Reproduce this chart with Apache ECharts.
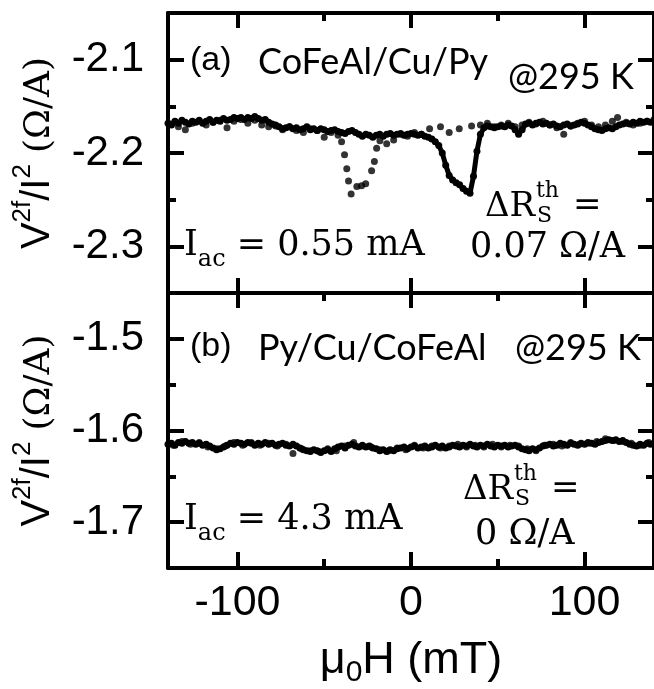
<!DOCTYPE html>
<html>
<head>
<meta charset="utf-8">
<script src="https://cdn.jsdelivr.net/npm/echarts@6.0.0/dist/echarts.min.js"></script>
<style>
  html, body { margin: 0; padding: 0; background: #fff; }
  #chart { width: 654px; height: 689px; }
</style>
</head>
<body>
<div id="chart"></div>
<script>
// field axis (mT) for the dense sweeps, 2 mT step
var fieldDense = [
  -140, -138, -136, -134, -132, -130, -128, -126, -124, -122, -120, -118, -116, -114, -112, -110,
  -108, -106, -104, -102, -100, -98, -96, -94, -92, -90, -88, -86, -84, -82, -80, -78,
  -76, -74, -72, -70, -68, -66, -64, -62, -60, -58, -56, -54, -52, -50, -48, -46,
  -44, -42, -40, -38, -36, -34, -32, -30, -28, -26, -24, -22, -20, -18, -16, -14,
  -12, -10, -8, -6, -4, -2, 0, 2, 4, 6, 8, 10, 12, 14, 16, 18,
  20, 22, 24, 26, 28, 30, 32, 34, 36, 38, 40, 42, 44, 46, 48, 50,
  52, 54, 56, 58, 60, 62, 64, 66, 68, 70, 72, 74, 76, 78, 80, 82,
  84, 86, 88, 90, 92, 94, 96, 98, 100, 102, 104, 106, 108, 110, 112, 114,
  116, 118, 120, 122, 124, 126, 128, 130, 132, 134, 136, 138, 140
];

// (a) CoFeAl/Cu/Py, dense sweep
var topDense = [
  -2.168, -2.170, -2.166, -2.168, -2.165, -2.167, -2.169, -2.166, -2.167, -2.165, -2.168, -2.166, -2.164, -2.167, -2.165, -2.166,
  -2.163, -2.165, -2.164, -2.162, -2.163, -2.162, -2.164, -2.162, -2.163, -2.161, -2.163, -2.165, -2.164, -2.167, -2.169, -2.170,
  -2.172, -2.174, -2.173, -2.172, -2.174, -2.173, -2.175, -2.174, -2.172, -2.175, -2.174, -2.176, -2.174, -2.175, -2.177, -2.176,
  -2.175, -2.177, -2.178, -2.179, -2.177, -2.176, -2.178, -2.180, -2.182, -2.180, -2.181, -2.183, -2.181, -2.180, -2.182, -2.180,
  -2.179, -2.181, -2.180, -2.179, -2.181, -2.180, -2.179, -2.180, -2.181, -2.180, -2.182, -2.183, -2.185, -2.188, -2.192, -2.200,
  -2.213, -2.224, -2.229, -2.232, -2.234, -2.238, -2.241, -2.243, -2.225, -2.198, -2.180, -2.173, -2.171, -2.172, -2.173, -2.172,
  -2.171, -2.172, -2.170, -2.171, -2.175, -2.180, -2.175, -2.169, -2.168, -2.170, -2.168, -2.167, -2.169, -2.168, -2.170, -2.169,
  -2.171, -2.172, -2.170, -2.169, -2.171, -2.170, -2.169, -2.167, -2.168, -2.170, -2.172, -2.174, -2.175, -2.176, -2.174, -2.173,
  -2.174, -2.172, -2.170, -2.169, -2.168, -2.169, -2.167, -2.168, -2.166, -2.167, -2.166, -2.167, -2.166
];

// (a) sparse sweep: field, value
var topSparseField = [
  -138, -134, -130, -126, -122, -118, -114, -110, -106, -102, -98, -94, -90, -86, -82, -78,
  -74, -70, -66, -62, -58, -54, -50, -46, -42, -40, -38.3, -37, -36, -34.5, -31.2, -28.5,
  -26.1, -22.7, -21.1, -19.8, -17.9, -14, -10, -6, -2, 2, 6, 10.7, 17, 22, 27.8, 34.9,
  40, 44, 48, 52, 56, 60, 64, 68, 72, 76, 80, 84, 88, 92, 96, 100,
  104, 108, 112, 116, 119, 124, 128, 132, 136, 140
];
var topSparse = [
  -2.169, -2.172, -2.175, -2.168, -2.166, -2.170, -2.167, -2.165, -2.173, -2.166, -2.164, -2.168, -2.165, -2.170, -2.172, -2.171,
  -2.175, -2.172, -2.176, -2.178, -2.174, -2.176, -2.183, -2.178, -2.181, -2.188, -2.202, -2.217, -2.230, -2.244, -2.236, -2.235,
  -2.233, -2.219, -2.209, -2.195, -2.187, -2.190, -2.186, -2.180, -2.182, -2.178, -2.180, -2.174, -2.172, -2.178, -2.174, -2.171,
  -2.170, -2.168, -2.172, -2.170, -2.168, -2.172, -2.170, -2.167, -2.169, -2.166, -2.170, -2.173, -2.180, -2.171, -2.168, -2.166,
  -2.170, -2.172, -2.170, -2.166, -2.162, -2.167, -2.170, -2.168, -2.166, -2.164
];

// (b) Py/Cu/CoFeAl, dense sweep
var botDense = [
  -1.615, -1.614, -1.616, -1.613, -1.614, -1.612, -1.614, -1.613, -1.615, -1.614, -1.616, -1.615, -1.617, -1.619, -1.621, -1.620,
  -1.618, -1.616, -1.614, -1.615, -1.613, -1.614, -1.615, -1.613, -1.614, -1.616, -1.614, -1.615, -1.613, -1.615, -1.614, -1.616,
  -1.615, -1.614, -1.616, -1.617, -1.615, -1.617, -1.619, -1.621, -1.622, -1.623, -1.621, -1.622, -1.624, -1.622, -1.621, -1.623,
  -1.620, -1.618, -1.617, -1.619, -1.616, -1.615, -1.617, -1.618, -1.616, -1.618, -1.617, -1.619, -1.620, -1.622, -1.621, -1.623,
  -1.621, -1.622, -1.620, -1.619, -1.618, -1.620, -1.618, -1.617, -1.619, -1.618, -1.617, -1.619, -1.618, -1.616, -1.618, -1.617,
  -1.619, -1.618, -1.616, -1.617, -1.618, -1.616, -1.617, -1.615, -1.617, -1.618, -1.616, -1.617, -1.615, -1.617, -1.618, -1.616,
  -1.617, -1.616, -1.618, -1.617, -1.616, -1.618, -1.620, -1.621, -1.622, -1.620, -1.621, -1.619, -1.617, -1.616, -1.615, -1.617,
  -1.616, -1.614, -1.615, -1.616, -1.614, -1.615, -1.616, -1.614, -1.615, -1.613, -1.614, -1.615, -1.613, -1.612, -1.611, -1.610,
  -1.611, -1.610, -1.612, -1.611, -1.613, -1.615, -1.616, -1.617, -1.615, -1.616, -1.614, -1.615, -1.614
];

// (b) sparse sweep
var botSparseField = [
  -137, -132, -127, -122, -117, -112, -107, -102, -97, -92, -87, -82, -77, -72, -68, -63,
  -58, -53, -48, -43, -38, -33, -28, -23, -18, -13, -8, -3, 2, 7, 12, 17,
  22, 27, 32, 37, 42, 47, 52, 57, 62, 67, 72, 77, 82, 87, 92, 97,
  102, 107, 112, 117, 122, 127, 132, 137
];
var botSparse = [
  -1.616, -1.612, -1.615, -1.613, -1.618, -1.620, -1.617, -1.613, -1.616, -1.613, -1.616, -1.614, -1.617, -1.615, -1.625, -1.620,
  -1.622, -1.623, -1.620, -1.622, -1.617, -1.613, -1.617, -1.618, -1.621, -1.622, -1.619, -1.621, -1.616, -1.619, -1.617, -1.619,
  -1.617, -1.615, -1.618, -1.616, -1.618, -1.615, -1.618, -1.616, -1.617, -1.620, -1.622, -1.616, -1.615, -1.617, -1.613, -1.615,
  -1.614, -1.612, -1.609, -1.611, -1.612, -1.614, -1.616, -1.613
];

// tick labels
var fieldTicks = [-100, 0, 100];
var fieldMinor = [-50, 50];
var topTicks = [-2.3, -2.2, -2.1];
var topMinor = [-2.25, -2.15];
var botTicks = [-1.7, -1.6, -1.5];
var botMinor = [-1.65, -1.55];

function pairs(xs, ys) {
  return xs.map(function (x, i) { return [x, ys[i]]; });
}

var SANS = '"Liberation Sans", Arial, sans-serif';
var SERIF = '"DejaVu Serif", "Liberation Serif", serif';
var CAL = 'Lato, "Open Sans", sans-serif';

function xAx(grid, pos, ticks, len, withLine) {
  return {
    type: 'value', gridIndex: grid, position: pos, min: -140, max: 140,
    axisLine: { show: withLine, onZero: false, lineStyle: { color: '#000', width: 4 } },
    axisTick: { show: true, inside: true, length: len, customValues: ticks, lineStyle: { color: '#000', width: 4 } },
    axisLabel: { show: false },
    splitLine: { show: false }
  };
}
function yAx(grid, pos, min, max, ticks, len, withLine) {
  return {
    type: 'value', gridIndex: grid, position: pos, min: min, max: max,
    axisLine: { show: withLine, onZero: false, lineStyle: { color: '#000', width: 4 } },
    axisTick: { show: true, inside: true, length: len, customValues: ticks, lineStyle: { color: '#000', width: 4 } },
    axisLabel: { show: false },
    splitLine: { show: false }
  };
}

var yNameRich = {
  t: { fontFamily: SANS, fontSize: 40, lineHeight: 48, verticalAlign: 'bottom' },
  sup: { fontFamily: SANS, fontSize: 26, lineHeight: 26, verticalAlign: 'top' },
  s: { fontFamily: SERIF, fontSize: 36, lineHeight: 48, verticalAlign: 'bottom' }
};
var yNameText = '{t|V}{sup|2f}{t|/I}{sup|2}{t| }{s|(Ω/A)}';

// bottom axis with labels (panel b)
var xMain = xAx(1, 'bottom', fieldTicks, 16, true);
xMain.axisLabel = {
  show: true, customValues: fieldTicks, margin: 14, color: '#000',
  fontFamily: SANS, fontSize: 43
};
xMain.name = '{t|μ}{sub|0}{t|H (mT)}';
xMain.nameLocation = 'middle';
xMain.nameGap = 70;
xMain.nameTextStyle = {
  color: '#000',
  rich: {
    t: { fontFamily: SANS, fontSize: 45, lineHeight: 50, verticalAlign: 'top', color: '#000' },
    sub: { fontFamily: SANS, fontSize: 30, lineHeight: 28, verticalAlign: 'bottom', color: '#000' }
  }
};

function yMainAx(grid, min, max, ticks) {
  var a = yAx(grid, 'left', min, max, ticks, 16, true);
  a.axisLabel = {
    show: true, customValues: ticks, margin: 24, color: '#000',
    fontFamily: SANS, fontSize: 42,
    formatter: function (v) { return v.toFixed(1); }
  };
  a.name = yNameText;
  a.nameLocation = 'middle';
  a.nameGap = 110;
  a.nameRotate = 90;
  a.nameTextStyle = { color: '#000', rich: yNameRich };
  return a;
}

var option = {
  backgroundColor: '#fff',
  animation: false,
  grid: [
    { left: 168, right: -4, top: 13, height: 280 },
    { left: 168, right: -4, top: 293, height: 281 }
  ],
  xAxis: [
    xAx(0, 'bottom', fieldTicks, 15, true),
    xAx(0, 'top', fieldTicks, 15, true),
    xAx(0, 'top', fieldMinor, 8, false),
    xMain,
    xAx(1, 'bottom', fieldMinor, 9, false),
    xAx(1, 'top', fieldTicks, 15, true),
    xAx(1, 'top', fieldMinor, 8, false)
  ],
  yAxis: [
    yMainAx(0, -2.35, -2.05, topTicks),
    yAx(0, 'left', -2.35, -2.05, topMinor, 8, false),
    yAx(0, 'right', -2.35, -2.05, topTicks, 16, true),
    yAx(0, 'right', -2.35, -2.05, topMinor, 8, false),
    yMainAx(1, -1.75, -1.45, botTicks),
    yAx(1, 'left', -1.75, -1.45, botMinor, 8, false),
    yAx(1, 'right', -1.75, -1.45, botTicks, 16, true),
    yAx(1, 'right', -1.75, -1.45, botMinor, 8, false)
  ],
  series: [
    {
      type: 'line', xAxisIndex: 0, yAxisIndex: 0, data: pairs(fieldDense, topDense),
      symbol: 'circle', symbolSize: 7, itemStyle: { color: '#000' },
      lineStyle: { color: '#000', width: 5 }
    },
    {
      type: 'scatter', xAxisIndex: 0, yAxisIndex: 0, data: pairs(topSparseField, topSparse),
      symbolSize: 7, itemStyle: { color: '#000' }
    },
    {
      type: 'line', xAxisIndex: 3, yAxisIndex: 4, data: pairs(fieldDense, botDense),
      symbol: 'circle', symbolSize: 7, itemStyle: { color: '#000' },
      lineStyle: { color: '#000', width: 5 }
    },
    {
      type: 'scatter', xAxisIndex: 3, yAxisIndex: 4, data: pairs(botSparseField, botSparse),
      symbolSize: 7, itemStyle: { color: '#000' }
    }
  ],
  graphic: [
    // panel (a)
    { type: 'text', x: 190, y: 61, style: { text: '(a)', font: '34px ' + SANS, fill: '#000', verticalAlign: 'middle' } },
    { type: 'text', x: 258, y: 62, style: { text: 'CoFeAl/Cu/Py', font: '36px ' + CAL, fill: '#000', verticalAlign: 'middle' } },
    { type: 'text', x: 508, y: 77, style: { text: '@295 K', font: '36px ' + CAL, fill: '#000', verticalAlign: 'middle' } },
    { type: 'text', x: 184, y: 250, style: {
      text: '{m|I}{sub|ac}{m| = 0.55 mA}', verticalAlign: 'middle', fill: '#000',
      rich: {
        m: { fontFamily: SERIF, fontSize: 35, lineHeight: 44, verticalAlign: 'top' },
        sub: { fontFamily: SERIF, fontSize: 24, lineHeight: 24, verticalAlign: 'bottom' }
      } } },
    { type: 'text', x: 485, y: 207, style: { text: 'ΔR', font: '34px ' + SERIF, fill: '#000', verticalAlign: 'middle' } },
    { type: 'text', x: 536, y: 191, style: { text: 'th', font: '22px ' + SERIF, fill: '#000', verticalAlign: 'middle' } },
    { type: 'text', x: 537, y: 216, style: { text: 'S', font: '22px ' + SERIF, fill: '#000', verticalAlign: 'middle' } },
    { type: 'text', x: 573, y: 206, style: { text: '=', font: '34px ' + SERIF, fill: '#000', verticalAlign: 'middle' } },
    { type: 'text', x: 470, y: 248, style: { text: '0.07 Ω/A', font: '35px ' + SERIF, fill: '#000', verticalAlign: 'middle' } },
    // panel (b)
    { type: 'text', x: 190, y: 347, style: { text: '(b)', font: '34px ' + SANS, fill: '#000', verticalAlign: 'middle' } },
    { type: 'text', x: 258, y: 348, style: { text: 'Py/Cu/CoFeAl', font: '36px ' + CAL, fill: '#000', verticalAlign: 'middle' } },
    { type: 'text', x: 515, y: 348, style: { text: '@295 K', font: '36px ' + CAL, fill: '#000', verticalAlign: 'middle' } },
    { type: 'text', x: 184, y: 524, style: {
      text: '{m|I}{sub|ac}{m| = 4.3 mA}', verticalAlign: 'middle', fill: '#000',
      rich: {
        m: { fontFamily: SERIF, fontSize: 35, lineHeight: 44, verticalAlign: 'top' },
        sub: { fontFamily: SERIF, fontSize: 24, lineHeight: 24, verticalAlign: 'bottom' }
      } } },
    { type: 'text', x: 463, y: 490, style: { text: 'ΔR', font: '34px ' + SERIF, fill: '#000', verticalAlign: 'middle' } },
    { type: 'text', x: 514, y: 474, style: { text: 'th', font: '22px ' + SERIF, fill: '#000', verticalAlign: 'middle' } },
    { type: 'text', x: 515, y: 499, style: { text: 'S', font: '22px ' + SERIF, fill: '#000', verticalAlign: 'middle' } },
    { type: 'text', x: 551, y: 489, style: { text: '=', font: '34px ' + SERIF, fill: '#000', verticalAlign: 'middle' } },
    { type: 'text', x: 475, y: 535, style: { text: '0 Ω/A', font: '35px ' + SERIF, fill: '#000', verticalAlign: 'middle' } }
  ]
};

var chart = echarts.init(document.getElementById('chart'), null, { renderer: 'canvas' });
chart.setOption(option);
</script>
</body>
</html>
